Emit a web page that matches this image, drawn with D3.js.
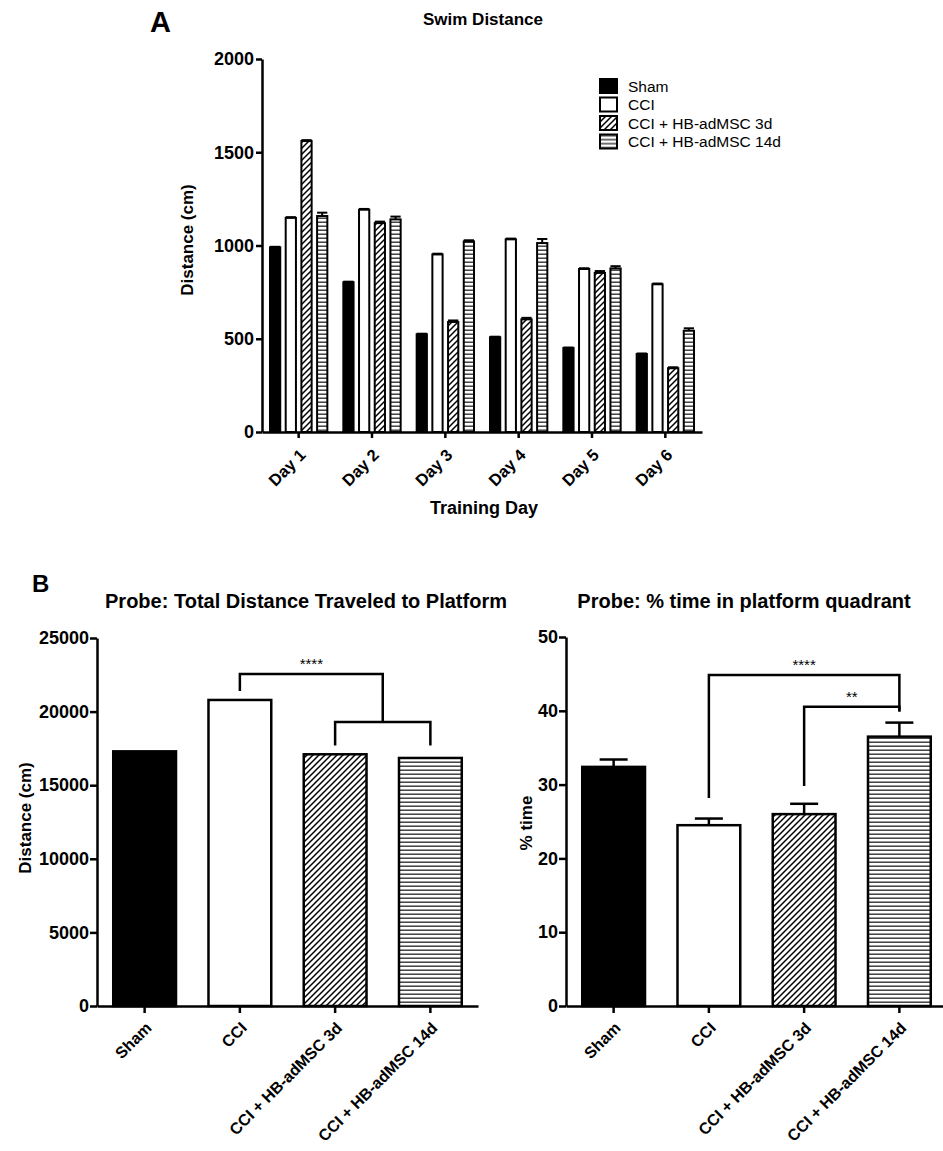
<!DOCTYPE html>
<html>
<head>
<meta charset="utf-8">
<script src="https://cdn.jsdelivr.net/npm/d3@7"></script>
<style>
    body { margin: 0; background: #fff; }
    svg text { font-family: "Liberation Sans", Arial, sans-serif; fill: #000; }
</style>
</head>
<body>
<svg id="fig" width="943" height="1151"></svg>
<script>
// --- data ---
var days = ['Day 1', 'Day 2', 'Day 3', 'Day 4', 'Day 5', 'Day 6'];
var groups = ['Sham', 'CCI', 'CCI + HB-adMSC 3d', 'CCI + HB-adMSC 14d'];

var swimSham = [990, 803, 524, 508, 450, 418];
var swimCCI = [1148, 1192, 952, 1033, 874, 792];
var swim3d = [1560, 1120, 590, 604, 853, 342];
var swim14d = [1158, 1140, 1022, 1013, 877, 543];
var swimShamErr = [3, 3, 3, 3, 3, 3];
var swimCCIErr = [4, 4, 4, 4, 4, 4];
var swim3dErr = [5, 8, 8, 8, 10, 5];
var swim14dErr = [18, 15, 6, 22, 12, 13];
var swimTicks = [0, 500, 1000, 1500, 2000];

var probeDistance = [17300, 20790, 17100, 16850];
var distTicks = [0, 5000, 10000, 15000, 20000, 25000];
var distSig = [
    { a: 'CCI', b: ['CCI + HB-adMSC 3d', 'CCI + HB-adMSC 14d'], top: 22550, footA: 21400, footB: 19300, label: '****' },
    { a: 'CCI + HB-adMSC 3d', b: ['CCI + HB-adMSC 14d'], top: 19300, footA: 17700, footB: 17700, label: '' }
];

var probeTime = [32.4, 24.5, 26.0, 36.5];
var probeTimeErr = [1.0, 0.9, 1.4, 1.9];
var timeTicks = [0, 10, 20, 30, 40, 50];
var timeSig = [
    { a: 'CCI', b: ['CCI + HB-adMSC 14d'], top: 44.85, footA: 28.2, footB: 39.9, label: '****' },
    { a: 'CCI + HB-adMSC 3d', b: ['CCI + HB-adMSC 14d'], top: 40.55, footA: 29.8, footB: 39.9, label: '**' }
];

var fills = ['#000', '#fff', 'url(#diag)', 'url(#horiz)'];

var svg = d3.select('#fig');

// patterns
var defs = svg.append('defs');
var diag = defs.append('pattern')
    .attr('id', 'diag')
    .attr('patternUnits', 'userSpaceOnUse')
    .attr('width', 6).attr('height', 6);
diag.append('rect').attr('width', 6).attr('height', 6).attr('fill', '#fff');
diag.append('path')
    .attr('d', 'M0,6 L6,0 M-1,1 L1,-1 M5,7 L7,5')
    .attr('stroke', '#000').attr('stroke-width', 1.5);

var horiz = defs.append('pattern')
    .attr('id', 'horiz')
    .attr('patternUnits', 'userSpaceOnUse')
    .attr('width', 8).attr('height', 4);
horiz.append('rect').attr('width', 8).attr('height', 4).attr('fill', '#fff');
horiz.append('rect').attr('y', 1.5).attr('width', 8).attr('height', 1.4).attr('fill', '#333');

function styleAxis(g, fontSize) {
    g.selectAll('.domain').attr('stroke', '#000').attr('stroke-width', 2.5);
    g.selectAll('.tick line').attr('stroke', '#000').attr('stroke-width', 2.5);
    g.selectAll('.tick text')
        .style('font-size', fontSize + 'px')
        .style('font-weight', 'bold')
        .attr('fill', '#000');
}

function rotateLabels(g, dx, dy) {
    g.selectAll('.tick text')
        .attr('x', 0).attr('y', 0).attr('dy', '0.35em')
        .attr('transform', 'translate(' + dx + ',' + dy + ') rotate(-45)')
        .style('text-anchor', 'end');
}

function addText(x, y, str, size, weight, anchor, rotate) {
    var t = svg.append('text')
        .attr('transform', 'translate(' + x + ',' + y + ')' + (rotate ? ' rotate(' + rotate + ')' : ''))
        .style('font-size', size + 'px')
        .style('font-weight', weight)
        .style('text-anchor', anchor)
        .text(str);
    return t;
}

// ---------------- Panel A ----------------
function drawSwim() {
    var left = 262, right = 702, bottom = 432, top = 59;
    var x0 = d3.scaleBand().domain(days).range([left, right]);
    var x1 = d3.scaleBand().domain(groups).range([7, x0.bandwidth() - 7]).paddingInner(0.22);
    var y = d3.scaleLinear().domain([0, 2000]).range([bottom, top]);

    var series = [swimSham, swimCCI, swim3d, swim14d];
    var errs = [swimShamErr, swimCCIErr, swim3dErr, swim14dErr];

    var rows = [];
    days.forEach(function(d, i) {
        groups.forEach(function(g, j) {
            rows.push({ day: d, group: g, j: j, v: series[j][i], e: errs[j][i] });
        });
    });

    var bars = svg.append('g');
    // error bars first so the bar outline sits over the stem
    bars.selectAll('line.err')
        .data(rows)
        .enter().append('line')
        .attr('x1', function(d) { return x0(d.day) + x1(d.group) + x1.bandwidth() / 2; })
        .attr('x2', function(d) { return x0(d.day) + x1(d.group) + x1.bandwidth() / 2; })
        .attr('y1', function(d) { return y(d.v); })
        .attr('y2', function(d) { return y(d.v + d.e); })
        .attr('stroke', '#000').attr('stroke-width', 2);
    bars.selectAll('line.cap')
        .data(rows)
        .enter().append('line')
        .attr('x1', function(d) { return x0(d.day) + x1(d.group) + 1; })
        .attr('x2', function(d) { return x0(d.day) + x1(d.group) + x1.bandwidth() - 1; })
        .attr('y1', function(d) { return y(d.v + d.e); })
        .attr('y2', function(d) { return y(d.v + d.e); })
        .attr('stroke', '#000').attr('stroke-width', 2);

    bars.selectAll('rect')
        .data(rows)
        .enter().append('rect')
        .attr('x', function(d) { return x0(d.day) + x1(d.group) + 1; })
        .attr('width', x1.bandwidth() - 2)
        .attr('y', function(d) { return y(d.v); })
        .attr('height', function(d) { return y(0) - y(d.v); })
        .attr('fill', function(d) { return fills[d.j]; })
        .attr('stroke', '#000').attr('stroke-width', 2);

    var gy = svg.append('g')
        .attr('transform', 'translate(' + left + ',0)')
        .call(d3.axisLeft(y).tickValues(swimTicks).tickFormat(d3.format('d'))
            .tickSize(6).tickSizeOuter(0).tickPadding(2));
    styleAxis(gy, 18);

    var gx = svg.append('g')
        .attr('transform', 'translate(0,' + bottom + ')')
        .call(d3.axisBottom(x0).tickSize(6).tickSizeOuter(0));
    styleAxis(gx, 16.5);
    rotateLabels(gx, 4, 20);

    addText(150, 32, 'A', 29, 'bold', 'start');
    addText(483, 25, 'Swim Distance', 17, 'bold', 'middle');
    addText(193, 240, 'Distance (cm)', 17, 'bold', 'middle', -90);
    addText(484, 514, 'Training Day', 18, 'bold', 'middle');

    // legend
    var leg = svg.append('g').attr('transform', 'translate(599,86)');
    var item = leg.selectAll('g')
        .data(groups)
        .enter().append('g')
        .attr('transform', function(d, i) { return 'translate(0,' + (i * 18.5) + ')'; });
    item.append('rect')
        .attr('x', 1).attr('y', -7).attr('width', 17).attr('height', 14)
        .attr('fill', function(d, i) { return fills[i]; })
        .attr('stroke', '#000').attr('stroke-width', 2);
    item.append('text')
        .attr('x', 29).attr('dy', '0.36em')
        .style('font-size', '15.5px')
        .text(function(d) { return d; });
}

// ---------------- Panel B ----------------
function drawProbe(opts) {
    var x = d3.scaleBand().domain(groups).range([opts.left, opts.right]).paddingInner(0.32).paddingOuter(0.16);
    var y = d3.scaleLinear().domain(opts.domain).range([opts.bottom, opts.top]);
    var cx = function(g) { return x(g) + x.bandwidth() / 2; };

    var g = svg.append('g');

    if (opts.errs) {
        g.selectAll('line.err')
            .data(opts.values)
            .enter().append('line')
            .attr('x1', function(d, i) { return cx(groups[i]); })
            .attr('x2', function(d, i) { return cx(groups[i]); })
            .attr('y1', function(d) { return y(d); })
            .attr('y2', function(d, i) { return y(d + opts.errs[i]); })
            .attr('stroke', '#000').attr('stroke-width', 2.5);
        g.selectAll('line.cap')
            .data(opts.values)
            .enter().append('line')
            .attr('x1', function(d, i) { return cx(groups[i]) - 14; })
            .attr('x2', function(d, i) { return cx(groups[i]) + 14; })
            .attr('y1', function(d, i) { return y(d + opts.errs[i]); })
            .attr('y2', function(d, i) { return y(d + opts.errs[i]); })
            .attr('stroke', '#000').attr('stroke-width', 2.5);
    }

    g.selectAll('rect')
        .data(opts.values)
        .enter().append('rect')
        .attr('x', function(d, i) { return x(groups[i]) + 1; })
        .attr('width', x.bandwidth() - 2)
        .attr('y', function(d) { return y(d); })
        .attr('height', function(d) { return y(0) - y(d); })
        .attr('fill', function(d, i) { return fills[i]; })
        .attr('stroke', '#000').attr('stroke-width', 2.5);

    // significance brackets
    opts.sig.forEach(function(s) {
        var xa = cx(s.a);
        var xb = d3.mean(s.b, function(b) { return cx(b); });
        var path = d3.path();
        path.moveTo(xa, y(s.footA));
        path.lineTo(xa, y(s.top));
        path.lineTo(xb, y(s.top));
        path.lineTo(xb, y(s.footB));
        g.append('path')
            .attr('d', path.toString())
            .attr('fill', 'none')
            .attr('stroke', '#000').attr('stroke-width', 2.5);
        if (s.label) {
            g.append('text')
                .attr('x', (xa + xb) / 2)
                .attr('y', y(s.top) - 5)
                .style('text-anchor', 'middle')
                .style('font-size', '15px')
                .text(s.label);
        }
    });

    var gy = svg.append('g')
        .attr('transform', 'translate(' + opts.left + ',0)')
        .call(d3.axisLeft(y).tickValues(opts.ticks).tickFormat(d3.format('d'))
            .tickSize(7).tickSizeOuter(0).tickPadding(1));
    styleAxis(gy, 18);

    var gx = svg.append('g')
        .attr('transform', 'translate(0,' + opts.bottom + ')')
        .call(d3.axisBottom(x).tickSize(7).tickSizeOuter(0));
    styleAxis(gx, 16);
    rotateLabels(gx, 4, 19);

    addText(opts.titleX, 608, opts.title, 20, 'bold', 'middle');
    addText(opts.yTitleX, opts.yTitleY, opts.yTitle, 17, 'bold', 'middle', -90);
}

drawSwim();

addText(32, 592, 'B', 24, 'bold', 'start');

drawProbe({
    left: 97, right: 478, bottom: 1006, top: 638,
    domain: [0, 25000], ticks: distTicks,
    values: probeDistance, errs: null, sig: distSig,
    title: 'Probe: Total Distance Traveled to Platform', titleX: 306,
    yTitle: 'Distance (cm)', yTitleX: 31, yTitleY: 818
});

drawProbe({
    left: 566, right: 947, bottom: 1006, top: 637,
    domain: [0, 50], ticks: timeTicks,
    values: probeTime, errs: probeTimeErr, sig: timeSig,
    title: 'Probe: % time in platform quadrant', titleX: 744,
    yTitle: '% time', yTitleX: 532, yTitleY: 823
});
</script>
</body>
</html>
